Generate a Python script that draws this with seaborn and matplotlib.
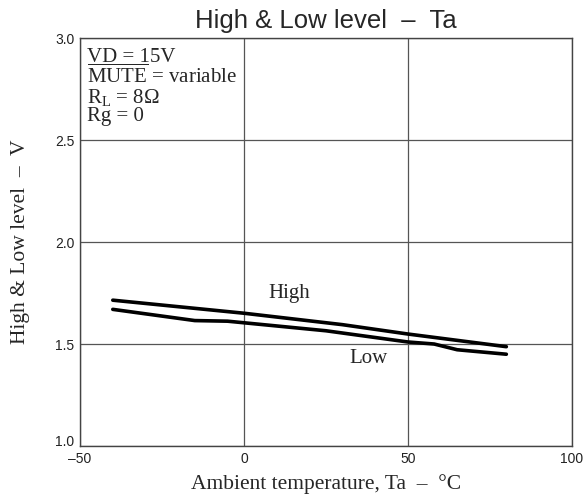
import pandas as pd
import matplotlib
matplotlib.use('Agg')
import matplotlib.pyplot as plt
import matplotlib.transforms as mtransforms
import seaborn as sns

# 読み取り値
ta_high = [-40, -15, 0, 30, 50, 80]
v_high = [1.715, 1.675, 1.651, 1.595, 1.549, 1.487]
ta_low = [-40, -15, -5, 25, 50, 58, 65, 80]
v_low = [1.670, 1.615, 1.612, 1.565, 1.510, 1.500, 1.472, 1.450]

xticks = [-50, 0, 50, 100]
yticks = [1.0, 1.5, 2.0, 2.5, 3.0]

df = pd.concat([
    pd.DataFrame({'Ta': ta_high, 'V': v_high, 'level': 'High'}),
    pd.DataFrame({'Ta': ta_low, 'V': v_low, 'level': 'Low'}),
])

sns.set_style('white')
plt.rcParams['font.family'] = ['Liberation Sans', 'DejaVu Sans']
plt.rcParams['mathtext.fontset'] = 'custom'
plt.rcParams['mathtext.rm'] = 'Liberation Serif'
plt.rcParams['mathtext.it'] = 'Liberation Serif:italic'

serif = ['Liberation Serif', 'DejaVu Serif']
fs = 15.5

fig = plt.figure(figsize=(5.86, 4.95), dpi=100)
ax = fig.add_axes([0.1365, 0.099, 0.8395, 0.824])

sns.lineplot(data=df, x='Ta', y='V', units='level', estimator=None,
             color='black', linewidth=2.6, ax=ax, sort=False)

ax.set_xlim(-50, 100)
ax.set_ylim(1.0, 3.0)
ax.set_xticks(xticks)
ax.set_xticklabels(['\u201350', '0', '50', '100'])
ax.set_yticks(yticks)
ax.set_yticklabels([f'{v:.1f}' for v in yticks])
ax.tick_params(length=0, labelsize=10, colors='#222222', pad=4)
ax.grid(True, color='#555555', linewidth=0.9)
for s in ax.spines.values():
    s.set_color('#444444')
    s.set_linewidth(1.0)

# 1.0 のラベルを少し上へ
lab0 = ax.get_yticklabels()[0]
lab0.set_transform(lab0.get_transform() + mtransforms.ScaledTranslation(0, 5 / 100, fig.dpi_scale_trans))

ax.set_xlabel('Ambient temperature, Ta  \u2013  \u00b0C', family=serif, fontsize=fs, labelpad=6)
ax.set_ylabel('High & Low level  \u2013  V', family=serif, fontsize=fs, labelpad=18)
ax.set_title('High & Low level  \u2013  Ta', fontsize=18.5, pad=7)

ax.text(13.7, 1.726, 'High', family=serif, fontsize=15, ha='center', va='baseline')
ax.text(38.1, 1.407, 'Low', family=serif, fontsize=15, ha='center', va='baseline')

cond = ['VD = 15V', r'$\overline{\rm MUTE}$ = variable', r'R$_{\rm L}$ = 8$\Omega$', 'Rg = 0']
cond_y = [0.941, 0.890, 0.841, 0.797]
for t, yy in zip(cond, cond_y):
    ax.text(0.014, yy, t, transform=ax.transAxes, family=serif,
            fontsize=15, ha='left', va='baseline')

fig.savefig('out.png', dpi=100)
